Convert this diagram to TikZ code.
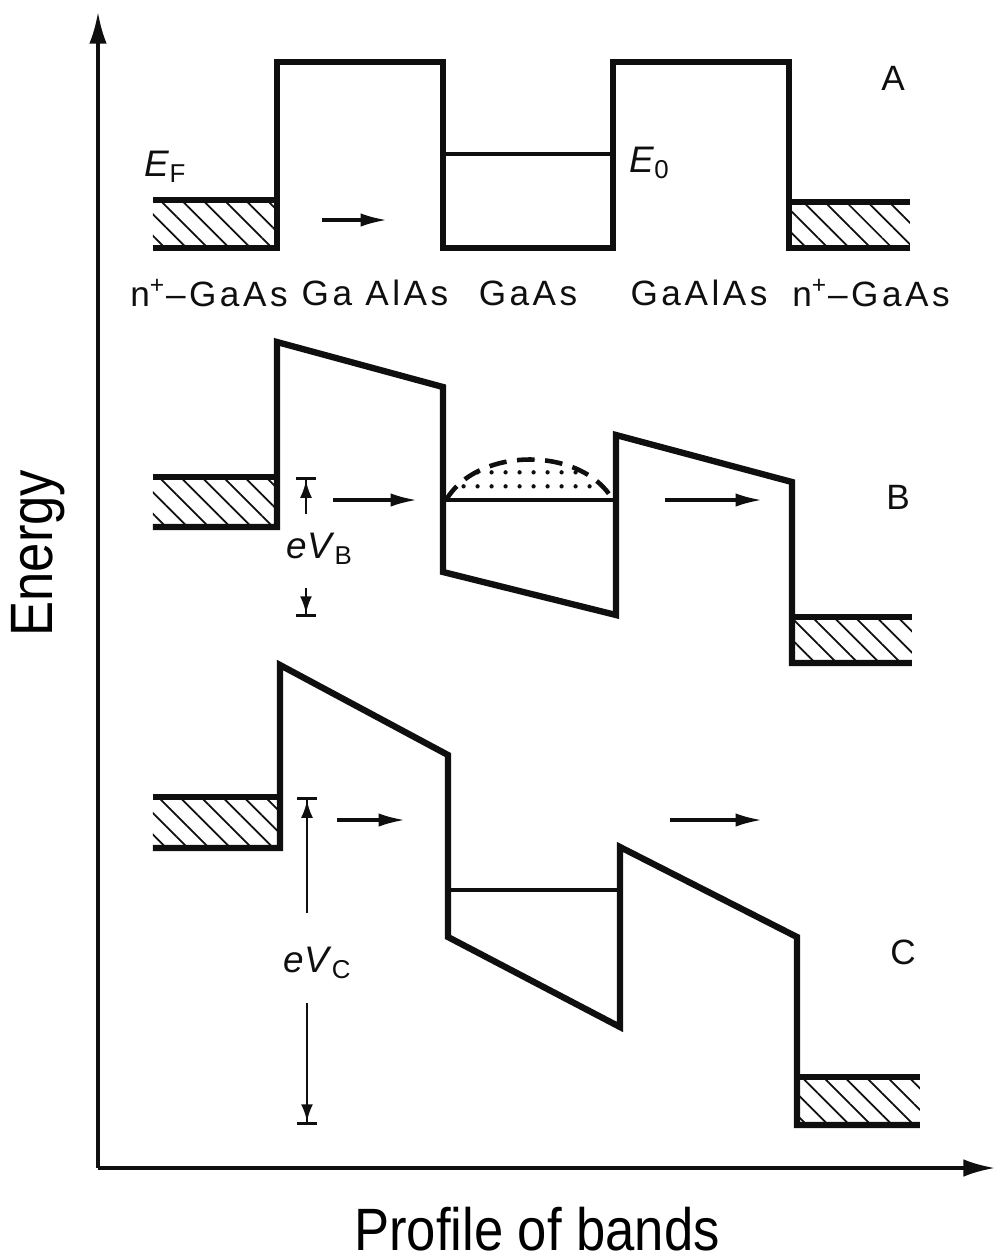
\documentclass[tikz,border=0pt]{standalone}
\usepackage{fontspec}
\setmainfont{Liberation Sans}
\newfontfamily\bandfont[LetterSpace=10]{Liberation Sans}
\newfontfamily\axisfont[FakeStretch=0.88]{Liberation Sans}
\usepackage{tikz}
\usetikzlibrary{arrows.meta,patterns.meta}
\definecolor{bandInk}{RGB}{15,15,15}
\tikzset{
  band line/.style={draw=bandInk,line width=1.8pt},
  level line/.style={draw=bandInk,line width=1.2pt},
  contact hatch/.style={pattern={Lines[angle=-45,distance=4.3pt,line width=0.5pt]},pattern color=bandInk},
  electron fill/.style={pattern={Dots[distance=4pt,radius=0.65pt]},pattern color=bandInk},
  flow arrow/.style={-{Latex[length=7.5pt,width=3.8pt]},line width=0.9pt,draw=bandInk},
  bias arrow/.style={-{Latex[length=5pt,width=3.4pt]Bar[width=5.5pt,line width=0.9pt]},line width=0.8pt,draw=bandInk},
  axis arrow/.style={-{Latex[length=9pt,width=5pt]},line width=1pt,draw=bandInk},
  band label/.style={font={\bandfont\fontsize{10pt}{12pt}\selectfont},text=bandInk,inner sep=0pt},
  level label/.style={font={\fontsize{10.5pt}{12pt}\selectfont},text=bandInk,inner sep=0pt},
  axis label/.style={font={\axisfont\fontsize{17pt}{20pt}\selectfont},text=black,inner sep=0pt}
}

\begin{document}
\begin{tikzpicture}[x=0.01cm,y=-0.01cm]
  \useasboundingbox (0,0) rectangle (997,1259);
  % axes
  \coordinate (origin) at (98,1168);
  \coordinate (eTop) at (98,12);
  \coordinate (xEnd) at (995,1168);
  \draw[axis arrow] (origin) -- (eTop);
  \draw[axis arrow] (origin) -- (xEnd);
  \node[axis label,rotate=90,anchor=base] (energyLbl) at (52,553) {Energy};
  \node[axis label,anchor=base] (profileLbl) at (537,1250) {Profile of bands};

  % A: no bias
  \fill[contact hatch] (153,200) rectangle (277,248);
  \fill[contact hatch] (789,202) rectangle (910,248);
  \draw[band line] (153,248) -- (277,248) -- (277,62) -- (443,62) -- (443,248) -- (613,248) -- (613,62) -- (789,62) -- (789,248) -- (910,248);
  \draw[band line] (153,200) -- (277,200);
  \draw[band line] (789,202) -- (910,202);
  \draw[level line] (443,154) -- (613,154);
  \draw[flow arrow] (322,220) -- (387,220);
  \node[level label] (efLbl) at (166,167) {\textit{E}\textsubscript{F}};
  \node[level label] (e0Lbl) at (650,163) {\textit{E}\textsubscript{0}};
  \node[band label] (panelA) at (893,78) {A};
  \node[band label] (leftContact) at (209,293) {n\textsuperscript{+}–GaAs};
  \node[band label] (leftBarrier) at (375,293) {Ga AlAs};
  \node[band label] (wellLbl) at (528,293) {GaAs};
  \node[band label] (rightBarrier) at (699,293) {GaAlAs};
  \node[band label] (rightContact) at (871,293) {n\textsuperscript{+}–GaAs};

  % B: resonance
  \fill[contact hatch] (153,477) rectangle (277,527);
  \fill[contact hatch] (792,617) rectangle (912,663);
  \draw[band line] (153,527) -- (277,527) -- (277,342) -- (443,387) -- (443,572) -- (616,615) -- (616,435) -- (792,482) -- (792,663) -- (912,663);
  \draw[band line] (153,477) -- (277,477);
  \draw[band line] (792,617) -- (912,617);
  \fill[electron fill] (446,500) .. controls (478,446) and (582,446) .. (613,500) -- cycle;
  \draw[draw=bandInk,line width=1.3pt,dash pattern=on 5pt off 3pt] (446,500) .. controls (478,446) and (582,446) .. (613,500);
  \draw[level line] (443,500) -- (616,500);
  \draw[flow arrow] (333,500) -- (417,500);
  \draw[flow arrow] (665,500) -- (762,500);
  \coordinate (vbTop) at (306,477);
  \coordinate (vbBot) at (306,617);
  \node[level label] (vbLbl) at (320,549) {\textit{eV}\textsubscript{B}};
  \draw[bias arrow] (306,514) -- (vbTop);
  \draw[bias arrow] (306,588) -- (vbBot);
  \node[band label] (panelB) at (898,497) {B};

  % C: beyond resonance
  \fill[contact hatch] (153,797) rectangle (280,848);
  \fill[contact hatch] (797,1077) rectangle (920,1125);
  \draw[band line] (153,848) -- (280,848) -- (280,665) -- (448,755) -- (448,937) -- (620,1027) -- (620,847) -- (797,937) -- (797,1125) -- (920,1125);
  \draw[band line] (153,797) -- (280,797);
  \draw[band line] (797,1077) -- (920,1077);
  \draw[level line] (448,890) -- (620,890);
  \draw[flow arrow] (337,820) -- (405,820);
  \draw[flow arrow] (670,820) -- (762,820);
  \coordinate (vcTop) at (307,797);
  \coordinate (vcBot) at (307,1125);
  \node[level label] (vcLbl) at (318,963) {\textit{eV}\textsubscript{C}};
  \draw[bias arrow] (307,913) -- (vcTop);
  \draw[bias arrow] (307,1003) -- (vcBot);
  \node[band label] (panelC) at (903,952) {C};
\end{tikzpicture}
\end{document}
